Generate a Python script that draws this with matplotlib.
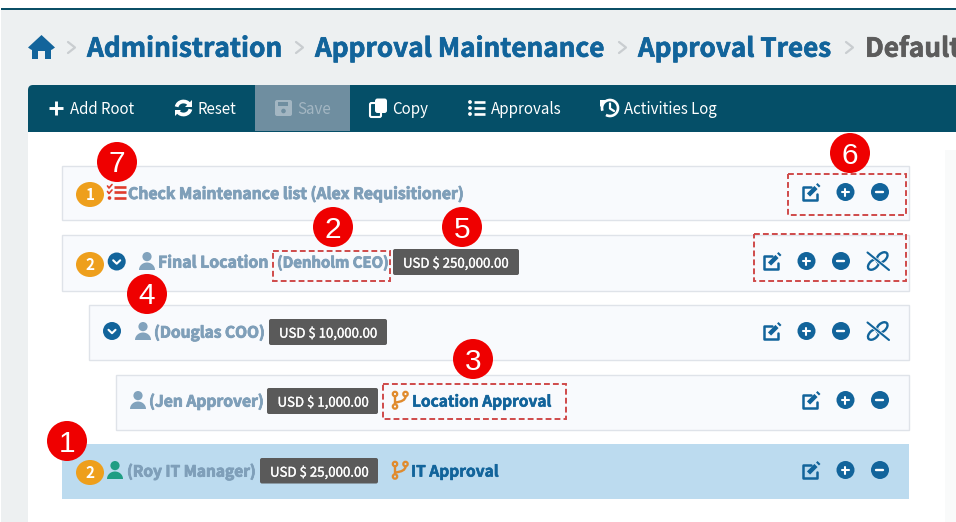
import numpy as np
import matplotlib
matplotlib.use('Agg')
import matplotlib.pyplot as plt
import matplotlib.patheffects as pe
from matplotlib.patches import Rectangle, Circle, Ellipse, Polygon, FancyBboxPatch, Arc, PathPatch
from matplotlib.path import Path

plt.rcParams['font.family'] = ['Noto Sans CJK SC', 'DejaVu Sans']

# text content
crumbs = ['Administration', 'Approval Maintenance', 'Approval Trees', 'Default']
toolbar_labels = ['Add Root', 'Reset', 'Save', 'Copy', 'Approvals', 'Activities Log']
row_labels = ['Check Maintenance list (Alex Requisitioner)', 'Final Location', '(Douglas COO)',
              '(Jen Approver)', '(Roy IT Manager)']
amounts = ['USD $ 250,000.00', 'USD $ 10,000.00', 'USD $ 1,000.00', 'USD $ 25,000.00']
order_badges = ['1', '2', '2']
callouts = ['1', '2', '3', '4', '5', '6', '7']
rule_names = ['Location Approval', 'IT Approval']
approver_ceo = '(Denholm CEO)'

BLUE = '#12649b'
DARK = '#054f68'
STEEL = '#7f9fb9'
ORANGE = '#ee9f1c'
BRANCH = '#e08b2e'
GREY = '#5a5a5a'
RED = '#ef0000'
DASH = '#cf4a4a'
ROW_BG = '#f8fafd'
ROW_EDGE = '#dfe3e9'

fig = plt.figure(figsize=(9.56, 5.22), dpi=100)
ax = fig.add_axes([0, 0, 1, 1])
ax.set_xlim(0, 956)
ax.set_ylim(522, 0)
ax.axis('off')
renderer = fig.canvas.get_renderer()


def fit(s, x0, x1, base, color, weight='normal', ha='left', z=5, stroke=0):
    # scale the font so the string spans x0..x1 px
    t = ax.text(x0, base, s, color=color, fontweight=weight, fontsize=10, va='baseline', ha=ha, zorder=z)
    w = t.get_window_extent(renderer).width
    t.set_fontsize(10 * (x1 - x0) / w)
    if stroke:
        t.set_path_effects([pe.withStroke(linewidth=stroke, foreground=color)])
    return t


def rect(x0, y0, x1, y1, fc, ec='none', lw=0, z=1):
    ax.add_patch(Rectangle((x0, y0), x1 - x0, y1 - y0, fc=fc, ec=ec, lw=lw, zorder=z))


def rrect(x0, y0, x1, y1, fc, r=2, z=3, ec='none', lw=0):
    ax.add_patch(FancyBboxPatch((x0 + r, y0 + r), x1 - x0 - 2 * r, y1 - y0 - 2 * r,
                                boxstyle='round,pad=%g,rounding_size=%g' % (r, r), fc=fc, ec=ec, lw=lw, zorder=z))


def line(xs, ys, color, lw=1.4, z=6, cap='round'):
    ax.plot(xs, ys, color=color, lw=lw, zorder=z, solid_capstyle=cap, solid_joinstyle='round')


def person(cx, top, color):
    ax.add_patch(Circle((cx, top + 4.6), 4.6, fc=color, ec='none', zorder=6))
    a = np.linspace(np.pi, 0, 24)
    pts = np.c_[cx + 8 * np.cos(a), top + 18 - 7.5 * np.sin(a)]
    ax.add_patch(Polygon(pts, fc=color, ec='none', zorder=6))


def edit_icon(cx, cy):
    line([cx + 0.5, cx - 7.5, cx - 7.5, cx + 6, cx + 6], [cy - 5.5, cy - 5.5, cy + 8, cy + 8, cy + 2], BLUE, 1.8)
    line([cx - 2.5, cx + 5], [cy + 3, cy - 4.5], BLUE, 3.2, cap='butt')
    line([cx + 6.5, cx + 8], [cy - 6, cy - 7.5], BLUE, 3.0, cap='butt')


def plus_icon(cx, cy):
    ax.add_patch(Circle((cx, cy), 9, fc=BLUE, ec='none', zorder=6))
    line([cx - 3.5, cx + 3.5], [cy, cy], 'white', 1.5, 7)
    line([cx, cx], [cy - 3.5, cy + 3.5], 'white', 1.5, 7)


def minus_icon(cx, cy):
    ax.add_patch(Circle((cx, cy), 9, fc=BLUE, ec='none', zorder=6))
    line([cx - 3.5, cx + 3.5], [cy, cy], 'white', 1.7, 7)


def unlink_icon(cx, cy):
    for dx, dy in [(-4.5, 3.5), (4, -3.5)]:
        ax.add_patch(Ellipse((cx + dx, cy + dy), 13, 8, angle=-42, fc='none', ec=BLUE, lw=1.7, zorder=6))
    line([cx - 10.5, cx + 11], [cy - 8.5, cy + 9], ROW_BG, 2.6, 7)
    line([cx - 10.5, cx + 11], [cy - 8.5, cy + 9], BLUE, 1.5, 8)


def chevron_circle(cx, cy):
    ax.add_patch(Circle((cx, cy), 9, fc=BLUE, ec='none', zorder=6))
    line([cx - 3.5, cx, cx + 3.5], [cy - 1.2, cy + 2.2, cy - 1.2], 'white', 1.5, 7)


def branch_icon(x, top):
    for px, py in [(x + 3, top + 3), (x + 13.5, top + 3), (x + 3, top + 15.5)]:
        ax.add_patch(Circle((px, py), 2.2, fc='none', ec=BRANCH, lw=1.6, zorder=6))
    line([x + 3, x + 3], [top + 5.5, top + 13], BRANCH, 1.7)
    verts = [(x + 13.5, top + 5.5), (x + 13.5, top + 10.5), (x + 3, top + 11.5)]
    ax.add_patch(PathPatch(Path(verts, [Path.MOVETO, Path.CURVE3, Path.CURVE3]), fc='none', ec=BRANCH, lw=1.7, zorder=6))


def task_icon(x, top):
    col = '#df3b2c'
    for y in [top + 2.5, top + 8, top + 14]:
        line([x + 7, x + 19], [y, y], col, 1.9, cap='butt')
    for y in [top + 2.5, top + 8]:
        line([x + 0.5, x + 2, x + 5], [y - 0.5, y + 1.5, y - 2], col, 1.2)
    ax.add_patch(Circle((x + 2.5, top + 14), 1.8, fc=col, ec='none', zorder=6))


def action_set(xs, cy, unlink=None):
    edit_icon(xs[0], cy)
    plus_icon(xs[1], cy)
    minus_icon(xs[2], cy)
    if unlink:
        unlink_icon(unlink, cy)


# page background
rect(1, 9, 956, 522, '#edf0f1', z=0)
rect(1, 8, 956, 10, '#0b4f66', z=1)
rect(28, 132, 956, 522, 'white', z=1)
rect(945, 150, 956, 522, '#f9fafa', z=1)

# breadcrumb
ax.add_patch(Polygon([(41.5, 35), (28, 47.5), (31.5, 50), (41.5, 41), (51.5, 50), (55, 47.5)], fc=BLUE, ec='none', zorder=5))
ax.add_patch(Polygon([(32, 47.5), (41.5, 39), (51, 47.5), (51, 59), (45, 59), (45, 51), (38, 51), (38, 59), (32, 59)],
                     fc=BLUE, ec='none', zorder=5))
for x in [68, 296, 619, 846]:
    line([x, x + 7, x], [42, 47.5, 53], '#c9cdd0', 1.6)
first = fit(crumbs[0], 87, 283, 56.7, BLUE, 'bold', stroke=0.5)
fit(crumbs[1], 315, 606, 56.7, BLUE, 'bold', stroke=0.5)
fit(crumbs[2], 638, 832, 56.7, BLUE, 'bold', stroke=0.5)
ax.text(865, 56.7, crumbs[3], color='#5c5c5c', fontweight='bold', fontsize=first.get_fontsize(), va='baseline', zorder=5,
        path_effects=[pe.withStroke(linewidth=0.5, foreground='#5c5c5c')])

# toolbar
rrect(28, 85, 60, 132, DARK, r=5, z=2)
rect(36, 85, 956, 132, DARK, z=2)
rect(28, 110, 60, 132, DARK, z=2)
rect(255, 85, 350, 131, '#6f8ea0', z=3)
SAVE = '#a3b6c2'
fit(toolbar_labels[0], 70, 135, 113.8, 'white')
fit(toolbar_labels[1], 198, 237, 113.8, 'white')
fit(toolbar_labels[2], 297, 331, 113.8, SAVE)
fit(toolbar_labels[3], 392, 428, 113.8, 'white')
fit(toolbar_labels[4], 491, 562, 113.8, 'white')
fit(toolbar_labels[5], 624, 717, 113.8, 'white')
# add
line([49, 63], [107.5, 107.5], 'white', 2.1, cap='butt')
line([56, 56], [100.5, 114.5], 'white', 2.1, cap='butt')
# reset arrows
ax.add_patch(Arc((183.5, 108), 14, 13, theta1=190, theta2=330, ec='white', lw=2.7, zorder=6))
ax.add_patch(Arc((183.5, 108), 14, 13, theta1=10, theta2=150, ec='white', lw=2.7, zorder=6))
ax.add_patch(Polygon([(192, 100), (192, 106.5), (185.5, 106.5)], fc='white', ec='none', zorder=6))
ax.add_patch(Polygon([(175, 116), (175, 109.5), (181.5, 109.5)], fc='white', ec='none', zorder=6))
# save disk
rrect(275, 100, 292, 116, SAVE, r=2, z=5)
rect(278, 102, 288, 106, '#6f8ea0', z=6)
ax.add_patch(Circle((283.5, 111), 2.3, fc='#6f8ea0', ec='none', zorder=6))
# copy
rrect(370, 103, 381, 117, DARK, r=1.5, z=6, ec='white', lw=1.5)
rrect(375, 98.5, 387, 113, 'white', r=2.5, z=7)
# list
for y in [102, 108, 114]:
    ax.add_patch(Circle((470, y), 1.9, fc='white', ec='none', zorder=6))
    line([474.5, 485], [y, y], 'white', 1.9, cap='butt')
# history
ax.add_patch(Arc((610, 108), 16, 16, theta1=-200, theta2=120, ec='white', lw=1.9, zorder=6))
ax.add_patch(Polygon([(600, 100), (607, 100), (600, 107)], fc='white', ec='none', zorder=6))
line([610, 610, 614], [103.5, 108.5, 111], 'white', 1.6, 7)

# tree rows
rect(62, 166, 909.5, 220, ROW_BG, ROW_EDGE, 1)
rect(62, 235, 909.5, 290.5, ROW_BG, ROW_EDGE, 1)
rect(89, 304.5, 909.5, 359.5, ROW_BG, ROW_EDGE, 1)
rect(116, 374.5, 909.5, 429.5, ROW_BG, ROW_EDGE, 1)
rect(62, 443.5, 909.5, 498.5, '#bcdbef', z=1)

# level badges
for s, top in zip(order_badges, [182, 252, 460]):
    ax.add_patch(Ellipse((90, top + 12.5), 28, 25, fc=ORANGE, ec='none', zorder=5))
    ax.text(90, top + 17.8, s, color='white', fontweight='bold', fontsize=11, ha='center', va='baseline', zorder=6)

task_icon(107, 184)
chevron_circle(116.7, 261.5)
chevron_circle(112, 331)
person(147, 252, '#82a3bd')
person(143, 322, '#82a3bd')
person(138, 391, '#82a3bd')
person(115, 461, '#1f9d84')

fit(row_labels[0], 128, 465, 199, STEEL, 'bold', stroke=0.6)
fit(row_labels[1], 158, 269, 267.6, STEEL, 'bold', stroke=0.6)
fit(approver_ceo, 277, 389, 267.6, STEEL, 'bold', stroke=0.6)
fit(row_labels[2], 154, 265, 337.6, STEEL, 'bold', stroke=0.6)
fit(row_labels[3], 149, 264, 406.6, STEEL, 'bold', stroke=0.6)
fit(row_labels[4], 127, 256, 476.6, STEEL, 'bold', stroke=0.6)

# amount chips
rrect(393, 249, 519, 275, GREY)
rrect(269, 319, 387, 345, GREY)
rrect(267, 388, 378, 414, GREY)
rrect(260, 458, 378, 483.5, GREY)
fit(amounts[0], 403, 509, 267.6, 'white', stroke=0.2)
fit(amounts[1], 279, 377.5, 337.6, 'white', stroke=0.2)
fit(amounts[2], 277.5, 369, 406.6, 'white', stroke=0.2)
fit(amounts[3], 270, 369, 476.6, 'white', stroke=0.2)

branch_icon(392, 391)
branch_icon(392, 461)
fit(rule_names[0], 412, 552, 406.6, BLUE, 'bold', stroke=0.4)
fit(rule_names[1], 411, 499, 476.6, BLUE, 'bold', stroke=0.4)

action_set([811, 845.5, 880], 192)
action_set([772, 806.5, 841], 261, 878)
action_set([772, 806.5, 841], 331, 878)
action_set([811, 845.5, 880], 400)
action_set([811, 845.5, 880], 470)

# dashed call-out frames
for x0, y0, x1, y1 in [(273.5, 250.5, 390, 281), (383.5, 384, 566, 419), (788, 174, 906, 215), (754, 234, 906, 281)]:
    ax.add_patch(Rectangle((x0, y0), x1 - x0, y1 - y0, fc='none', ec=DASH, lw=1.4, ls=(0, (3, 1.6)), zorder=9))

# numbered call-outs
call_x = [67, 333, 473, 147, 462, 850, 117]
call_y = [441, 227, 359, 294, 227, 153, 162]
for s, cx, cy in zip(callouts, call_x, call_y):
    ax.add_patch(Circle((cx, cy), 20, fc=RED, ec='none', zorder=10))
    ax.text(cx, cy + 10.5, s, color='white', fontsize=21.5, ha='center', va='baseline', zorder=11, family='Liberation Sans')

fig.savefig('out.png', dpi=100)
